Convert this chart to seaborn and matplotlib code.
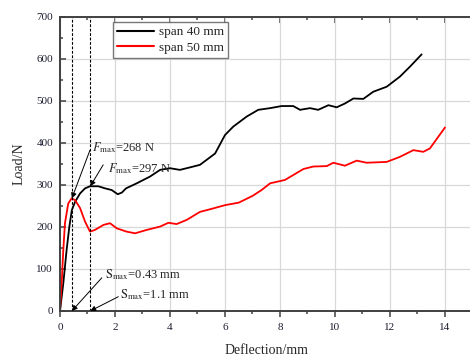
import matplotlib
matplotlib.use("Agg")
import matplotlib.pyplot as plt
import seaborn as sns
import pandas as pd
from matplotlib.ticker import MultipleLocator

# ---- data ----
x40 = [0, 0.12, 0.24, 0.34, 0.43, 0.55, 0.73, 0.91, 1.09, 1.39, 1.64, 1.88, 2.1, 2.25, 2.4,
       2.79, 3.27, 3.64, 4.0, 4.36, 4.73, 5.09, 5.64, 6.0, 6.3, 6.79, 7.21, 7.64, 8.06, 8.48,
       8.73, 9.09, 9.39, 9.76, 10.06, 10.36, 10.67, 11.03, 11.39, 11.88, 12.36, 12.73, 13.15]
y40 = [0, 66, 145, 201, 240, 260, 280, 292, 297, 297, 292, 288, 278, 282, 292,
       304, 320, 336, 340, 336, 342, 348, 375, 419, 439, 463, 479, 483, 488, 488,
       479, 483, 479, 490, 485, 494, 506, 505, 522, 534, 558, 582, 611]
x50 = [0, 0.06, 0.12, 0.18, 0.3, 0.42, 0.55, 0.73, 0.91, 1.09, 1.27, 1.58, 1.82, 2.06, 2.42,
       2.73, 3.15, 3.64, 3.94, 4.24, 4.61, 5.09, 5.5, 6.0, 6.5, 7.0, 7.33, 7.64, 8.18, 8.85,
       9.21, 9.7, 9.94, 10.36, 10.79, 11.15, 11.88, 12.36, 12.85, 13.21, 13.45, 14.0]
y50 = [0, 66, 145, 209, 256, 268, 264, 245, 213, 189, 193, 205, 209, 197, 189,
       185, 193, 201, 210, 207, 217, 236, 243, 252, 258, 274, 288, 304, 312, 338,
       344, 345, 353, 346, 358, 353, 355, 367, 383, 379, 387, 437]
series_names = ["span 40 mm", "span 50 mm"]
series_colors = ["black", "red"]
s_max = [0.43, 1.1]
f_max = [268, 297]
x_ticks = [0, 2, 4, 6, 8, 10, 12, 14]
y_ticks = [0, 100, 200, 300, 400, 500, 600, 700]

df = pd.concat([
    pd.DataFrame({"x": x40, "y": y40, "s": series_names[0]}),
    pd.DataFrame({"x": x50, "y": y50, "s": series_names[1]}),
], ignore_index=True)

sns.set_style("ticks")
plt.rcParams["font.family"] = ["Liberation Serif", "DejaVu Serif"]
plt.rcParams["mathtext.fontset"] = "stix"

fig = plt.figure(figsize=(4.70, 3.56), dpi=100)
ax = fig.add_axes([60 / 470, 1 - 311 / 356, 412.5 / 470, 294 / 356])

sns.lineplot(data=df, x="x", y="y", hue="s", palette=dict(zip(series_names, series_colors)),
             sort=False, estimator=None, linewidth=1.3, ax=ax)

ax.set_xlim(0, 15)
ax.set_ylim(0, 700)
ax.set_xticks(x_ticks)
ax.set_yticks(y_ticks)
ax.xaxis.set_minor_locator(MultipleLocator(1))
ax.yaxis.set_minor_locator(MultipleLocator(50))
ax.grid(True, which="major", color="#d8d8d8", linewidth=0.9)
ax.set_axisbelow(True)
for sp in ax.spines.values():
    sp.set_linewidth(1.4)
    sp.set_color("#404040")
ax.tick_params(axis="y", which="both", direction="in", left=True, right=False,
               labelsize=8, colors="#404040", labelcolor="#1c1c30", pad=5)
ax.tick_params(axis="x", which="both", direction="out", bottom=True,
               labelsize=8, colors="#404040", labelcolor="#1c1c30", pad=5)
ax.tick_params(which="major", length=4, width=1.1)
ax.tick_params(which="minor", length=2.5, width=1.1)
ax.xaxis.set_ticks_position("bottom")
ax.set_xlabel("Deflection/mm", fontsize=10, labelpad=8)
ax.set_ylabel("Load/N", fontsize=10, labelpad=8)

# top minor/major ticks pointing in
sec = ax.secondary_xaxis("top")
sec.set_xticks(x_ticks)
sec.xaxis.set_minor_locator(MultipleLocator(1))
sec.tick_params(which="both", direction="in", labeltop=False, colors="#404040", width=1.1)
sec.tick_params(which="major", length=4)
sec.tick_params(which="minor", length=2.5)
sec.spines["top"].set_visible(False)

# dashed vertical lines
for xv in s_max:
    ax.axvline(xv, color="black", linestyle=(0, (2.5, 1.5)), linewidth=0.8)

# legend
leg = ax.legend(loc="upper left", bbox_to_anchor=(0.128, 0.983), borderaxespad=0,
                fontsize=9.5, frameon=True, fancybox=False, handlelength=2.8,
                handletextpad=0.4, borderpad=0.3, labelspacing=0.25)
leg.get_frame().set_edgecolor("#555555")
leg.get_frame().set_linewidth(1.0)
for h in leg.get_lines():
    h.set_linewidth(1.5)

arrow = dict(arrowstyle="-|>", color="black", lw=0.7, mutation_scale=8, shrinkA=0, shrinkB=0)
ax.annotate("", xy=(s_max[0], f_max[0]), xytext=(1.09, 383), arrowprops=arrow)
ax.annotate("", xy=(s_max[1], f_max[1]), xytext=(1.57, 348), arrowprops=arrow)
ax.annotate("", xy=(s_max[0], 0), xytext=(1.52, 79), arrowprops=arrow)
ax.annotate("", xy=(s_max[1], 0), xytext=(2.12, 34), arrowprops=arrow)

ax.text(1.15, 390, r"$F_{\mathrm{max}}$=268 N", fontsize=9, va="center", ha="left")
ax.text(1.75, 340, r"$F_{\mathrm{max}}$=297 N", fontsize=9, va="center", ha="left")
ax.text(1.64, 86, r"$\mathrm{S}_{\mathrm{max}}$=0.43 mm", fontsize=9, va="center", ha="left")
ax.text(2.18, 38, r"$\mathrm{S}_{\mathrm{max}}$=1.1 mm", fontsize=9, va="center", ha="left")

fig.savefig("out.png", dpi=100)
